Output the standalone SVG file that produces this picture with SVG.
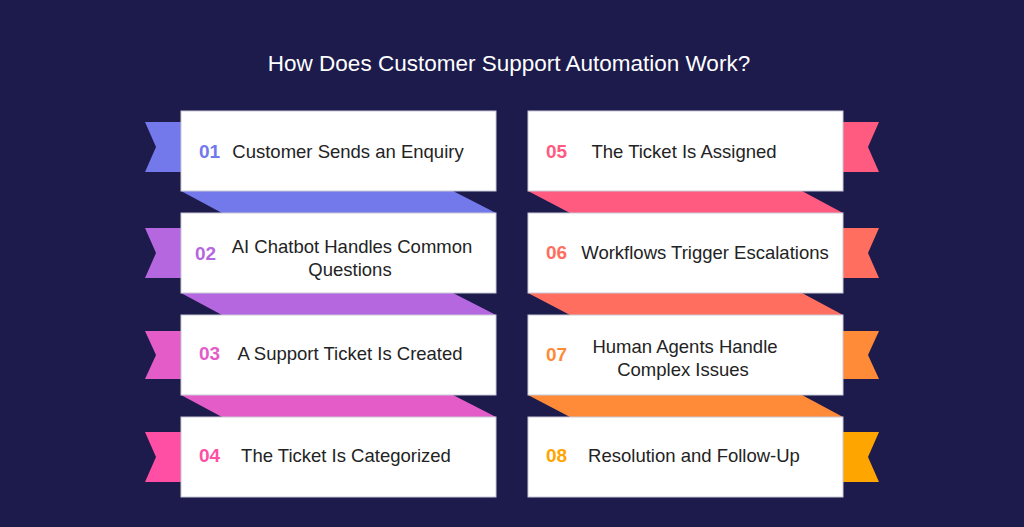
<svg xmlns="http://www.w3.org/2000/svg" width="1024" height="527" viewBox="0 0 1024 527">
<style>
.box{fill:#ffffff;stroke:#c9c8d6;stroke-width:1}
.lbl{font-family:"Liberation Sans",Arial,sans-serif;font-size:18.5px;fill:#232323;text-anchor:middle}
.num{font-family:"Liberation Sans",Arial,sans-serif;font-size:19px;font-weight:bold}
.title{font-family:"Liberation Sans",Arial,sans-serif;font-size:22.5px;fill:#ffffff;text-anchor:middle}
</style>
<rect width="1024" height="527" fill="#1c1b4c"/>
<text class="title" x="509" y="71">How Does Customer Support Automation Work?</text>
<g id="connectors">
<polygon points="181,191 453,191 496,213 222,213" fill="#7378ea"/>
<polygon points="181,293 453,293 496,315 222,315" fill="#b567e0"/>
<polygon points="181,395 453,395 496,417 222,417" fill="#e35cc8"/>
<polygon points="528,191 802,191 843,213 570,213" fill="#ff5a7f"/>
<polygon points="528,293 802,293 843,315 570,315" fill="#ff6e5e"/>
<polygon points="528,395 802,395 843,417 570,417" fill="#ff8a38"/>
</g>
<g id="step01">
<polygon points="145,122 182,122 182,172 145,172 156,147" fill="#7378ea"/>
<rect class="box" x="181" y="111" width="315" height="80"/>
<text class="num" x="199" y="158" fill="#7378ea">01</text>
<text class="lbl" x="348" y="158">Customer Sends an Enquiry</text>
</g>
<g id="step02">
<polygon points="145,228 182,228 182,278 145,278 156,253" fill="#b567e0"/>
<rect class="box" x="181" y="213" width="315" height="80"/>
<text class="num" x="195" y="260" fill="#b567e0">02</text>
<text class="lbl" x="352" y="253">AI Chatbot Handles Common</text>
<text class="lbl" x="350" y="276">Questions</text>
</g>
<g id="step03">
<polygon points="145,331 182,331 182,379 145,379 156,355" fill="#e35cc8"/>
<rect class="box" x="181" y="315" width="315" height="80"/>
<text class="num" x="199" y="360" fill="#e35cc8">03</text>
<text class="lbl" x="350" y="360">A Support Ticket Is Created</text>
</g>
<g id="step04">
<polygon points="145,432 182,432 182,482 145,482 156,457" fill="#ff4fa5"/>
<rect class="box" x="181" y="417" width="315" height="80"/>
<text class="num" x="199" y="462" fill="#ff4fa5">04</text>
<text class="lbl" x="346" y="462">The Ticket Is Categorized</text>
</g>
<g id="step05">
<polygon points="842,122 879,122 868,147 879,172 842,172" fill="#ff5a7f"/>
<rect class="box" x="528" y="111" width="315" height="80"/>
<text class="num" x="546" y="158" fill="#ff5a7f">05</text>
<text class="lbl" x="684" y="158">The Ticket Is Assigned</text>
</g>
<g id="step06">
<polygon points="842,228 879,228 868,253 879,278 842,278" fill="#ff6e5e"/>
<rect class="box" x="528" y="213" width="315" height="80"/>
<text class="num" x="546" y="259" fill="#ff6e5e">06</text>
<text class="lbl" x="705" y="259">Workflows Trigger Escalations</text>
</g>
<g id="step07">
<polygon points="842,331 879,331 868,355 879,379 842,379" fill="#ff8a38"/>
<rect class="box" x="528" y="315" width="315" height="80"/>
<text class="num" x="546" y="361" fill="#ff8a38">07</text>
<text class="lbl" x="685" y="353">Human Agents Handle</text>
<text class="lbl" x="683" y="376">Complex Issues</text>
</g>
<g id="step08">
<polygon points="842,432 879,432 868,457 879,482 842,482" fill="#ffa500"/>
<rect class="box" x="528" y="417" width="315" height="80"/>
<text class="num" x="546" y="462" fill="#ffa500">08</text>
<text class="lbl" x="694" y="462">Resolution and Follow-Up</text>
</g>
</svg>
